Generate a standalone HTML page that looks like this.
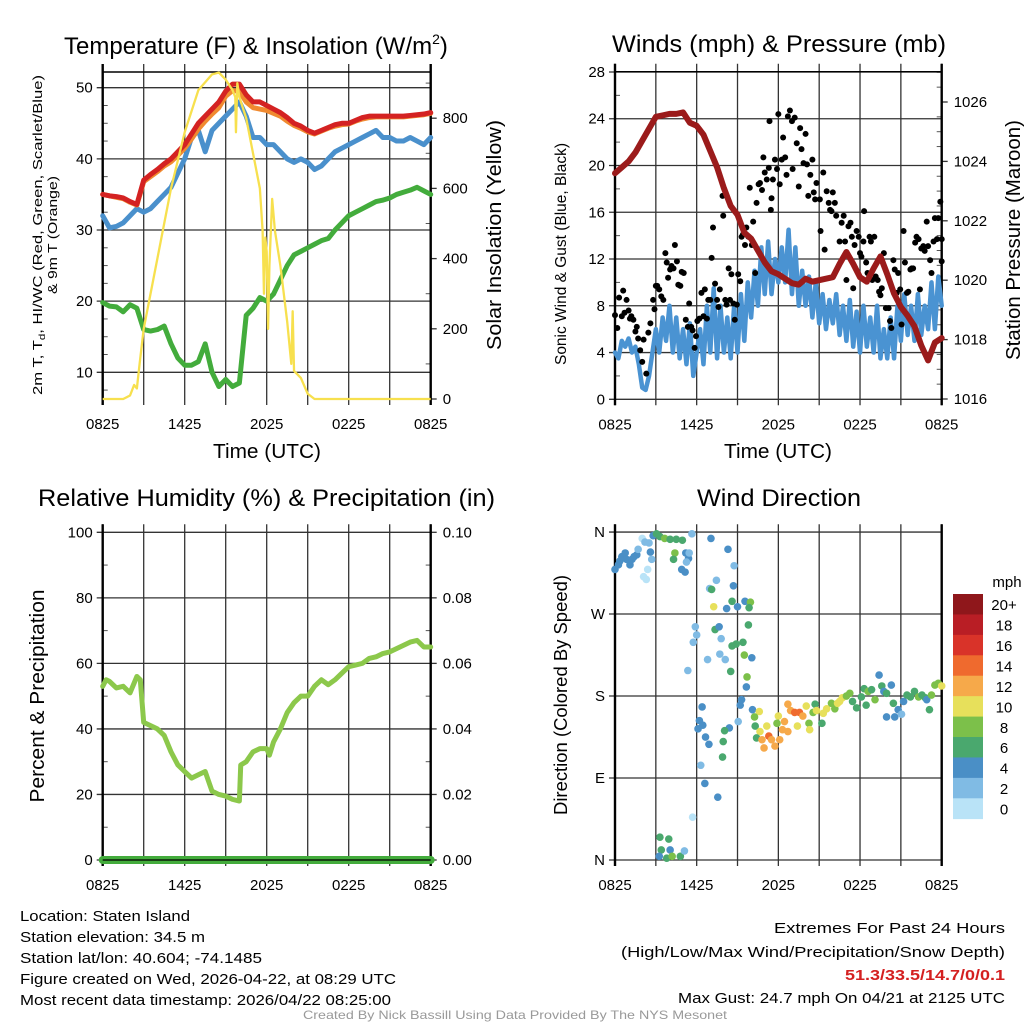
<!DOCTYPE html>
<html><head><meta charset="utf-8"><style>
html,body{margin:0;padding:0;background:#fff;}
svg{display:block;font-family:"Liberation Sans",Arial,sans-serif;}
</style></head><body>
<svg id="fig" width="1024" height="1024" viewBox="0 0 1024 1024" xmlns="http://www.w3.org/2000/svg">
<g id="layer"></g>
</svg>
<script>
// ---------- DATA ----------
const xTickLabels = ["0825","1425","2025","0225","0825"];
// Panel 1 (hours since 0825 at 0.5h steps)
const tempRed = [35,34.8,34.7,34.5,34,33.6,37,37.8,38.5,39.3,40,41,42,43.5,45,46,47,48,49.5,50.5,50.5,49,48,48,47.5,47,46.5,45.8,45,44.6,44,43.6,44,44.4,44.8,45,45,45.4,45.8,46,46,46,46,46,46,46.1,46.2,46.3,46.5];
const temp9m = [35,34.8,34.6,34.4,33.9,33.5,36.8,37.5,38.2,39,39.6,40.5,41.5,42.8,44.2,45.3,46.3,47.2,48.8,49.6,49.5,48,47.2,47,46.8,46.4,46,45.3,44.7,44.3,43.8,43.5,43.9,44.3,44.6,44.8,44.9,45.3,45.6,45.8,45.9,45.9,45.9,45.9,45.9,46,46.1,46.2,46.4];
const windChill = [32,30.3,30.5,31,32,33,32.5,33,34,35,36,38,40,43,44,41,44,45,46,47,48,46,43,43,42,42,41,40,39.5,40,39.5,38.5,39,40,41,41.5,42,42.5,43,43.5,44,43,43,42.5,42.5,43,42.5,42,43];
const dewPoint = [19.8,19.3,19.2,18.5,19.5,19,16,15.8,16,16.5,14,12,11,11,11.5,14,10,8,9,8,8.5,18,19,20.5,20,21,23,25,26.5,27,27.5,28,28.5,28.8,30,31,32,32.5,33,33.5,34,34.2,34.5,35,35.3,35.6,36,35.5,35];
const solarT = [0,1.5,2,2.3,2.5,2.7,3,4,5,6,7,8,8.5,9,9.5,9.7,9.75,9.85,10,10.5,11,11.5,11.7,11.8,11.9,12,12.1,12.2,12.4,12.6,13,13.5,13.8,13.9,14,14.5,15,15.5,24];
const solarW = [0,0,10,40,30,100,200,400,600,760,880,925,930,910,880,860,760,900,860,800,700,600,480,300,460,420,200,380,570,480,380,220,100,250,80,60,15,0,0];
// Panel 2
const pressure = [1023.6,1023.8,1024.0,1024.3,1024.7,1025.1,1025.5,1025.55,1025.6,1025.6,1025.65,1025.3,1025.2,1024.9,1024.35,1023.8,1023.1,1022.5,1022.2,1021.6,1021.4,1021.0,1020.6,1020.3,1020.2,1020.05,1019.9,1019.85,1020.05,1019.95,1020.0,1020.05,1020.1,1020.55,1020.95,1020.55,1020.1,1019.95,1020.4,1020.8,1020.2,1019.55,1019.1,1018.8,1018.45,1017.8,1017.3,1017.9,1018.05];
const sonicWind = [4,3.5,5,4.5,5.2,4,4.5,3,1,0.8,2,4,6,4,7,5,8,4,7,3.5,6,3,6.5,2,4,6,3,8,4,9.5,3.5,8,4,7,3.5,8,4,9,5,10,7,11,8,13,9,13.5,9,12,10,13,10,14.5,9,13,8,11,8,10.5,7,10,6.5,9,6,8.5,6.5,9,5.5,8,5,8.5,4.5,7.5,4,8,4.5,7,4,8,3.5,6,3.5,7,3.5,8,5,9,5.5,8,5,9,5.5,8,6,10,6,10.5,8];
const gustT = [0,0.17,0.3,0.5,0.6,0.7,0.85,1,1.1,1.2,1.35,1.5,1.6,1.7,1.85,2,2.1,2.3,2.45,2.6,2.8,2.9,3,3.1,3.25,3.4,3.55,3.7,3.8,3.9,4.05,4.15,4.3,4.4,4.55,4.65,4.8,4.9,5.05,5.2,5.35,5.45,5.6,5.7,5.85,5.95,6.05,6.2,6.35,6.5,6.6,6.75,6.85,7,7.1,7.2,7.35,7.5,7.6,7.7,7.9,7.95,8.1,8.2,8.35,8.45,8.55,8.7,8.8,8.95,9.05,9.2,9.3,9.4,9.55,9.65,9.8,9.9,10.05,10.15,10.3,10.4,10.55,10.65,10.8,10.9,11,11.15,11.3,11.35,11.45,11.5,11.6,11.75,11.9,12,12.1,12.25,12.35,12.5,12.6,12.7,12.85,13,13.05,13.2,13.35,13.5,13.6,13.7,13.85,14,14.1,14.2,14.35,14.5,14.6,14.7,14.8,15.05,15.1,15.3,15.4,15.55,15.7,15.8,15.9,16,16.15,16.25,16.5,16.65,16.8,16.9,17,17.15,17.3,17.4,17.5,17.6,17.75,17.9,18,18.1,18.25,18.3,18.45,18.55,18.7,18.8,18.9,19.05,19.15,19.3,19.4,19.5,19.6,19.75,19.9,20.1,20.2,20.3,20.45,20.55,20.7,20.8,20.95,21.05,21.2,21.3,21.45,21.55,21.7,21.8,21.9,22.05,22.15,22.3,22.4,22.5,22.65,22.75,22.9,23,23.15,23.25,23.4,23.5,23.65,23.75,23.9,24,24];
const gustV = [7.2,6.1,8.7,7.1,9.3,7.4,8.5,7.6,6.9,7.1,6.8,5.8,6.2,5.2,4.2,3.2,5.1,2.2,5.7,6.5,8.5,7.7,9.7,9.7,9.4,8.8,8.5,12.5,11.7,10.4,11.1,11.4,11.2,13.2,11.8,9.8,9.7,10.9,10.8,6.8,6.2,8.2,6.2,5.9,4.4,5.4,6.7,6.9,9.1,7.1,9.4,6.9,8.5,8.5,12.1,14.7,9.9,8.5,7.9,9.4,17.4,15.7,8.5,8.1,11.2,8.5,10.7,8.2,6.8,8.1,10.7,10.1,13.9,14.1,13.2,14.7,13.9,18.1,13.2,15.2,10.8,16.8,18.4,18.5,17.9,20.7,19.4,18.8,19.8,23.8,16.2,17.2,18.8,20.5,19.7,24.4,18.4,20.5,22.4,20.7,19.2,24.2,24.7,23.8,19.7,24.1,21.9,18.2,23.2,21.4,20.2,22.7,20.1,17.4,19.2,20.5,17.7,17.1,18.5,17.1,14.4,19.4,12.8,17.8,16.8,16.2,16.1,17.7,16.8,15.7,13.5,15.1,15.7,13.5,10.2,14.8,15.1,13.9,9.5,13.2,14.4,13.9,12.5,12.2,13.5,16.1,11.7,10.8,13.9,13.5,10.2,13.9,10.5,10.2,9.2,8.9,9.5,12.5,7.8,7.8,6.7,6.1,11.9,11.1,9.1,10.8,9.4,6.4,14.4,11.7,9.1,9.2,11.1,11.2,11.2,13.4,13.9,13.7,9.4,12.9,13.1,12.7,15.2,13.1,11.9,10.8,13.5,15.5,13.7,15.5,16.9,11.8,13.7];
// Panel 3
const rhT = [0,0.25,0.5,1,1.5,2,2.5,2.75,3,3.5,4,4.5,5,5.5,6,6.5,7,7.5,8,8.5,9,9.5,10,10.1,10.5,11,11.5,12,12.2,12.5,13,13.5,14,14.5,15,15.5,16,16.5,17,17.5,18,18.5,19,19.5,20,20.5,21,21.5,22,22.5,23,23.5,24];
const rhV = [53,55,54.5,52.5,53,51,56,55,42,41,40,38,33,29,27,25,26,27,21,20,19.5,18.5,18,29,30,33,34,34,32,36,40,45,48,50,50,53,55,53.5,55,57,59,59.5,60,61.5,62,63,63.5,64.5,65.5,66.5,67,65,65];
const precipT = [0,24];
const precipV = [0,0];
// Panel 4 wind direction
const dirT = [0,0.25,0.35,0.5,0.75,0.85,1.1,1.25,1.4,1.6,1.7,2,2.1,2.3,2.4,2.2,2.5,2.6,2.7,2.8,3.05,3.3,3.65,4.05,4.5,4.95,4.4,4.3,5.2,5.4,5.45,5.25,4.9,5.15,5.65,7.05,8.3,8.75,8.7,7.45,6.95,7.1,7.25,8.2,8.6,9,9.55,9.95,9.85,9.8,5.9,6,5.75,7.35,7.65,7.8,8.6,8.9,9.4,9.5,10.05,7.7,8.1,6.8,8.5,5.35,9.7,9.65,9.3,9.2,9.05,6.4,6.2,6.45,6.1,6.65,6.9,8.4,8.05,7.95,7.9,6.3,6.6,7.55,5.7,3.3,3.95,3.4,4.05,3.25,3.8,4.2,4.8,5.1,10.1,10.6,10.25,10.3,10.65,10.4,10.8,10.95,11.3,11.15,11.5,11.75,12.1,12,11.9,12.3,12.45,12.7,12.7,12.9,13.2,13.55,13.4,13.8,14.05,14.25,14.3,14.55,14.7,14.8,15.2,15.3,15.55,15.9,16.15,16.35,16.5,16.7,17,17.25,17.45,17.75,18.1,18.3,18.45,18.6,18.85,19.1,19.4,19.6,19.75,19.95,20.3,20.45,19.95,20.55,20.8,21.05,21.2,21.45,21.7,22,22.3,22.55,22.8,22.9,23.1,23.25,23.5,23.75,24];
const dirDeg = [319,324,328,333,337,330,324,330,333,335,341,353,311,308,319,349,348,338,330,356,358,355,353,352,352,351,337,330,337,331,337,327,319,316,358,353,341,323,301,307,298,297,278,276,284,278,284,283,277,258,256,247,239,253,256,243,235,237,239,225,222,226,220,220,207,208,201,190,176,170,152,168,153,148,144,135,127,145,142,130,113,104,84,69,47,25,23,11,11,4,2,4,4,10,165,163,157,147,141,134,132,123,136,147,132,125,132,158,150,143,152,141,171,164,162,162,147,158,169,150,143,162,171,164,150,161,166,172,166,172,174,178,180,183,174,167,179,188,170,185,187,176,203,191,185,183,192,172,157,157,165,160,174,181,179,185,179,181,178,176,165,181,192,194,191];
const dirSpd = [4,4,4,4,4,4,4,4,4,4,2,0,0,0,0,2,2,4,2,4,6,6,8,6,6,6,8,6,4,4,2,2,4,4,2,4,4,2,4,2,2,6,10,4,6,4,4,8,6,6,2,2,2,6,4,2,6,6,6,8,4,2,2,2,6,2,8,4,4,4,2,4,4,4,4,4,4,4,6,6,6,2,4,4,0,6,6,6,4,4,6,8,6,2,4,10,8,6,10,6,12,12,14,10,12,12,12,10,8,12,12,12,12,12,14,14,10,12,10,8,10,8,6,10,6,10,10,8,8,10,10,10,8,8,6,6,6,6,6,8,6,8,4,6,4,6,4,6,4,4,4,2,4,6,6,6,8,6,6,4,6,8,8,8,10];
const speedBins = ["0","2","4","6","8","10","12","14","16","18","20+"];
const speedColors = ["#b9e3f7","#80bbe4","#4a8fc6","#4aa86e","#7cc04a","#e7e05b","#f6a94a","#ef6a2e","#d93329","#b91e25","#8f171b"];

// ---------- HELPERS ----------
const NS="http://www.w3.org/2000/svg";
const L=document.getElementById('layer');
function mk(tag,attrs,parent){const e=document.createElementNS(NS,tag);for(const k in attrs)e.setAttribute(k,attrs[k]);(parent||L).appendChild(e);return e;}
function txt(s,x,y,size,anchor,extra){const e=mk('text',Object.assign({x:x,y:y,'font-size':size,'text-anchor':anchor||'middle',fill:'#000'},extra||{}));e.textContent=s;return e;}
function pathFrom(xs,ys){let d='';for(let i=0;i<xs.length;i++)d+=(i?'L':'M')+xs[i].toFixed(2)+' '+ys[i].toFixed(2);return d;}
const halfT = tempRed.map((v,i)=>i*0.5);
const qT = sonicWind.map((v,i)=>i*0.25);

function frame(x0,x1,y0,y1,yTicks,yMap,yLab,minor,rTicks,rMap,rLab,rMinor,name,topBorder){
  const g=mk('g',{});
  
  
  const xs=t=>x0+t*(x1-x0)/24;
  yTicks.forEach((v,i)=>{const y=yMap(v);mk('line',{x1:x0-6,x2:x1,y1:y,y2:y,stroke:'#333','stroke-width':1.3},g);
    const t=txt(yLab[i],x0-10,y+5,15,'end',{}); g.appendChild(t);});
  minor.forEach(v=>{const y=yMap(v);mk('line',{x1:x0,x2:x0+5,y1:y,y2:y,stroke:'#555','stroke-width':1},g);});
  for(let h=0;h<=24;h+=3){const x=xs(h);mk('line',{x1:x,x2:x,y1:y0-8,y2:y1+6,stroke:'#333','stroke-width':1.3},g);}
  xTickLabels.forEach((s,i)=>{const t=txt(s,xs(i*6),y1+30,15,'middle');g.appendChild(t);});
  if(rTicks){rTicks.forEach((v,i)=>{const y=rMap(v);mk('line',{x1:x1,x2:x1+6,y1:y,y2:y,stroke:'#333','stroke-width':1.3},g);
    const t=txt(rLab[i],x1+12,y+5,15,'start');g.appendChild(t);});
    rMinor.forEach(v=>{const y=rMap(v);mk('line',{x1:x1-5,x2:x1,y1:y,y2:y,stroke:'#555','stroke-width':1},g);});}
  mk('line',{x1:x0,x2:x0,y1:y0-8,y2:y1+6,stroke:'#000','stroke-width':2.4},g);
  mk('line',{x1:x1,x2:x1,y1:y0-8,y2:y1+6,stroke:'#000','stroke-width':2.4},g);
  if(topBorder)mk('line',{x1:x0,x2:x1,y1:y0,y2:y0,stroke:'#000','stroke-width':1.5},g);
  return xs;
}
const fit={lengthAdjust:'spacingAndGlyphs'};

// ---------- PANEL 1 ----------
(function(){
  const x0=102.7,x1=430.7,y0=72,y1=399;
  const yT=v=>372.3-(v-10)*7.115, yS=w=>399-w*0.351;
  const xs=frame(x0,x1,y0,y1,[10,20,30,40,50],yT,["10","20","30","40","50"],[7.5,12.5,15,17.5,22.5,25,27.5,32.5,35,37.5,42.5,45,47.5],[0,200,400,600,800],yS,["0","200","400","600","800"],[100,300,500,700,900],'temperature',true);
  const g=mk('g',{});
  
  
  let p=mk('path',{d:pathFrom(halfT.map(xs),dewPoint.map(yT)),fill:'none',stroke:'#43ac3c','stroke-width':5,'stroke-linejoin':'round','stroke-linecap':'round'},g);
  
  
  p=mk('path',{d:pathFrom(halfT.map(xs),windChill.map(yT)),fill:'none',stroke:'#4a90cc','stroke-width':5,'stroke-linejoin':'round','stroke-linecap':'round'},g);
  
  
  p=mk('path',{d:pathFrom(halfT.map(xs),temp9m.map(yT)),fill:'none',stroke:'#f08a30','stroke-width':5,'stroke-linejoin':'round','stroke-linecap':'round'},g);
  
  
  p=mk('path',{d:pathFrom(halfT.map(xs),tempRed.map(yT)),fill:'none',stroke:'#d42222','stroke-width':5,'stroke-linejoin':'round','stroke-linecap':'round'},g);
  
  
  p=mk('path',{d:pathFrom(solarT.map(xs),solarW.map(yS)),fill:'none',stroke:'#f7e04e','stroke-width':2.3,'stroke-linejoin':'round'},g);
  
  
  let t=txt('',64,54,24,'start');
  t.innerHTML='Temperature (F) &amp; Insolation (W/m<tspan dy="-10" font-size="14">2</tspan><tspan dy="10">)</tspan>';
  
  
  t=txt('Time (UTC)',267,458,20,'middle',Object.assign({textLength:108},fit));
  
  
  t=txt('',0,0,13,'middle',Object.assign({transform:'translate(42,235) rotate(-90)',textLength:320},fit));
  t.innerHTML='2m T, T<tspan dy="3" font-size="9">d</tspan><tspan dy="-3">, HI/WC (Red, Green, Scarlet/Blue)</tspan>';
  
  
  t=txt('& 9m T (Orange)',0,0,13,'middle',Object.assign({transform:'translate(57,235) rotate(-90)',textLength:118},fit));
  
  
  t=txt('Solar Insolation (Yellow)',0,0,20,'middle',Object.assign({transform:'translate(501,235) rotate(-90)',textLength:230},fit));
  
  
})();

// ---------- PANEL 2 ----------
(function(){
  const x0=615,x1=941.7,y0=71.7,y1=399.3;
  const yW=v=>399.3-v*11.69, yP=p=>399-(p-1016)*29.7;
  const minorW=[2,6,10,14,18,22,26];
  const minorP=[];for(let i=0;i<=44;i++){const p=1016+i*0.5; if(p%2!==0 && yP(p)>=y0)minorP.push(p);}
  const xs=frame(x0,x1,y0,y1,[0,4,8,12,16,20,24,28],yW,["0","4","8","12","16","20","24","28"],minorW,[1016,1018,1020,1022,1024,1026],yP,["1016","1018","1020","1022","1024","1026"],minorP,'winds',true);
  const g=mk('g',{});
  
  
  let p=mk('path',{d:pathFrom(qT.map(xs),sonicWind.map(yW)),fill:'none',stroke:'#4a93d2','stroke-width':4.5,'stroke-linejoin':'round','stroke-linecap':'round'},g);
  
  
  for(let i=0;i<gustT.length;i++){
    const c=mk('circle',{cx:xs(gustT[i]),cy:yW(gustV[i]),r:3,fill:'#000'},g);
    
    
  }
  p=mk('path',{d:pathFrom(halfT.map(xs),pressure.map(yP)),fill:'none',stroke:'#9b1b1b','stroke-width':6,'stroke-linejoin':'round','stroke-linecap':'round'},g);
  
  
  let t=txt('Winds (mph) & Pressure (mb)',612,52,24,'start',Object.assign({textLength:334},fit));
  
  
  t=txt('Time (UTC)',778,458,20,'middle',Object.assign({textLength:108},fit));
  
  
  t=txt('Sonic Wind & Gust (Blue, Black)',0,0,16,'middle',Object.assign({transform:'translate(566,254) rotate(-90)',textLength:222},fit));
  
  
  t=txt('Station Pressure (Maroon)',0,0,20,'middle',Object.assign({transform:'translate(1020,240) rotate(-90)',textLength:240},fit));
  
  
})();

// ---------- PANEL 3 ----------
(function(){
  const x0=102.7,x1=430.7,y0=532.3,y1=860;
  const yR=v=>860-v*3.277, yPr=v=>860-v*3277;
  const xs=frame(x0,x1,y0,y1,[0,20,40,60,80,100],yR,["0","20","40","60","80","100"],[10,30,50,70,90],[0,0.02,0.04,0.06,0.08,0.1],yPr,["0.00","0.02","0.04","0.06","0.08","0.10"],[0.01,0.03,0.05,0.07,0.09],'humidity',false);
  const g=mk('g',{});
  
  
  let p=mk('path',{d:pathFrom(rhT.map(xs),rhV.map(yR)),fill:'none',stroke:'#8cc84b','stroke-width':5,'stroke-linejoin':'round','stroke-linecap':'round'},g);
  
  
  p=mk('path',{d:pathFrom(precipT.map(xs),precipV.map(yPr)),fill:'none',stroke:'#43ac3c','stroke-width':8,'stroke-linecap':'round'},g);
  
  
  mk('line',{x1:x0,x2:x1,y1:y1,y2:y1,stroke:'#000','stroke-width':1.3},g);
  let t=txt('Relative Humidity (%) & Precipitation (in)',38,506,24,'start',Object.assign({textLength:457},fit));
  
  
  t=txt('Percent & Precipitation',0,0,20,'middle',Object.assign({transform:'translate(44,696) rotate(-90)',textLength:213},fit));
  
  
})();

// ---------- PANEL 4 ----------
(function(){
  const x0=615,x1=941.7,y0=532.3,y1=860;
  const yD=d=>860-d*0.911;
  const xs=frame(x0,x1,y0,y1,[0,90,180,270,360],yD,["N","E","S","W","N"],[],null,null,null,null,'wind-direction',false);
  const g=mk('g',{});
  
  
  for(let i=0;i<dirT.length;i++){
    const bin=Math.min(10,Math.floor(dirSpd[i]/2));
    const c=mk('circle',{cx:xs(dirT[i]),cy:yD(dirDeg[i]),r:3.8,fill:speedColors[bin]},g);
    
    
  }
  const cb=mk('g',{});
  
  
  const top=594, h=20.43;
  for(let i=0;i<speedBins.length;i++){
    const k=speedBins.length-1-i;
    const r=mk('rect',{x:953,y:top+i*h,width:30,height:h+0.4,fill:speedColors[k]},cb);
    
    
    const t=txt(speedBins[k],1004,top+i*h+h/2+6,15,'middle');
    
    
  }
  let t=txt('mph',1007,587,15,'middle');
  
  
  t=txt('Wind Direction',697,506,24,'start',Object.assign({textLength:164},fit));
  
  
  t=txt('Direction (Colored By Speed)',0,0,18,'middle',Object.assign({transform:'translate(567,695) rotate(-90)',textLength:240},fit));
  
  
})();

// ---------- FOOTER ----------
(function(){
  const left=[["Location: Staten Island",921,170],["Station elevation: 34.5 m",942,185],["Station lat/lon: 40.604; -74.1485",963,242],["Figure created on Wed, 2026-04-22, at 08:29 UTC",984,376],["Most recent data timestamp: 2026/04/22 08:25:00",1005,371]];
  left.forEach(a=>{const t=txt(a[0],20,a[1],15,'start',{textLength:a[2],lengthAdjust:'spacingAndGlyphs'});
    
    });
  let t=txt('Extremes For Past 24 Hours',1005,933,15,'end',{textLength:231,lengthAdjust:'spacingAndGlyphs'});
  
  
  t=txt('(High/Low/Max Wind/Precipitation/Snow Depth)',1005,957,15,'end',{textLength:384,lengthAdjust:'spacingAndGlyphs'});
  
  
  t=txt('51.3/33.5/14.7/0/0.1',1005,980,15,'end',{fill:'#d42020','font-weight':'bold',textLength:160,lengthAdjust:'spacingAndGlyphs'});
  
  
  t=txt('Max Gust: 24.7 mph On 04/21 at 2125 UTC',1005,1003,15,'end',{textLength:327,lengthAdjust:'spacingAndGlyphs'});
  
  
  t=txt('Created By Nick Bassill Using Data Provided By The NYS Mesonet',515,1019,12,'middle',{fill:'#999',textLength:424,lengthAdjust:'spacingAndGlyphs'});
  
  
})();
</script>
</body></html>
